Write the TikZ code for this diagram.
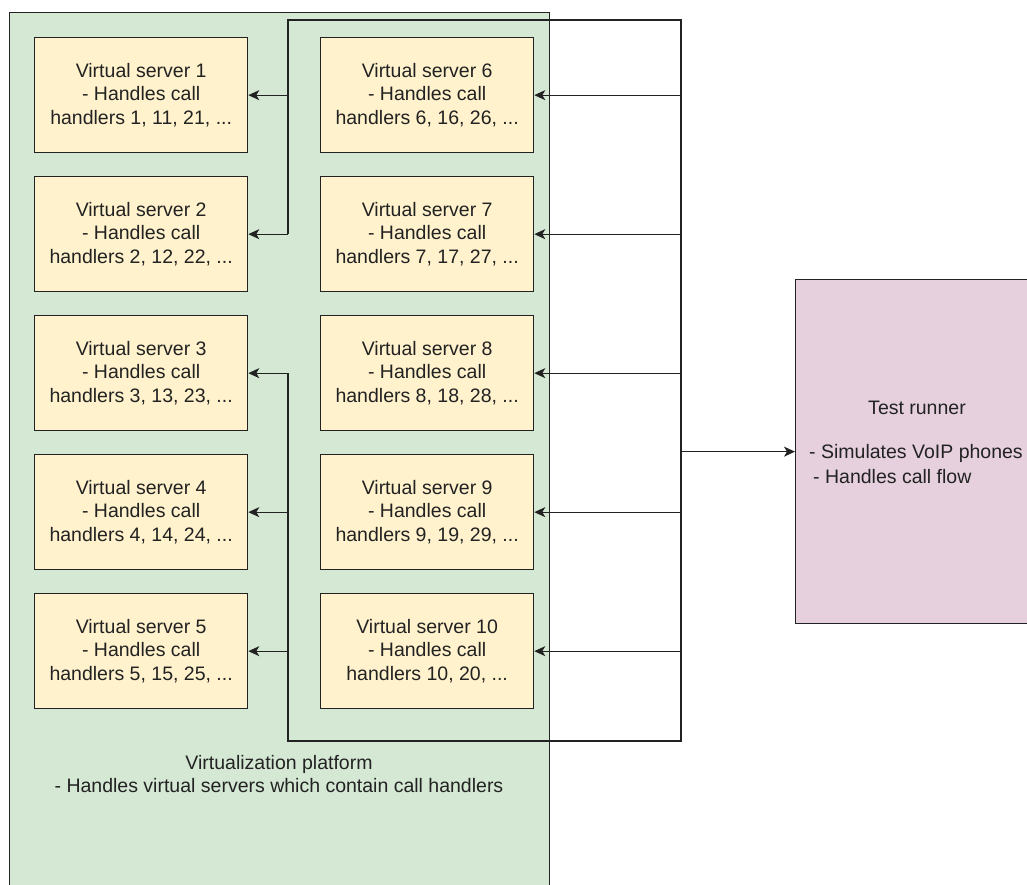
\documentclass[tikz,border=0pt]{standalone}
\usepackage{fontspec}
\setmainfont{Liberation Sans}
\usetikzlibrary{arrows.meta}
\definecolor{platfill}{HTML}{D5E8D4}
\definecolor{srvfill}{HTML}{FFF2CC}
\definecolor{trfill}{HTML}{E6D0DE}
\definecolor{ink}{HTML}{222222}
\begin{document}
\begin{tikzpicture}[x=1pt,y=-1pt,
  every node/.style={text=ink},
  txt/.style={font=\fontsize{19.5}{23.5}\selectfont, align=center, inner sep=0pt},
  srv/.style={draw=ink, line width=1.3pt, fill=srvfill, anchor=north west, minimum width=213pt, minimum height=115pt, txt},
  wire/.style={draw=ink, line width=1.3pt},
  arr/.style={wire, -{Stealth[length=11pt,width=10pt,inset=3pt]}}]
\useasboundingbox (0,0) rectangle (1027,884);
\clip (0,0) rectangle (1027,884);
% platform
\node[draw=ink, line width=1.3pt, fill=platfill, anchor=north west, minimum width=540pt, minimum height=900pt, inner sep=0pt] (plat) at (9,12) {};
\node[txt] (platlbl) at (279,774) {Virtualization platform\\- Handles virtual servers which contain call handlers};
% servers
\node[srv] (s1) at (34,37)  {Virtual server 1\\- Handles call\\handlers 1, 11, 21, ...};
\node[srv] (s2) at (34,176) {Virtual server 2\\- Handles call\\handlers 2, 12, 22, ...};
\node[srv] (s3) at (34,315) {Virtual server 3\\- Handles call\\handlers 3, 13, 23, ...};
\node[srv] (s4) at (34,454) {Virtual server 4\\- Handles call\\handlers 4, 14, 24, ...};
\node[srv] (s5) at (34,593) {Virtual server 5\\- Handles call\\handlers 5, 15, 25, ...};
\node[srv] (s6) at (320,37)  {Virtual server 6\\- Handles call\\handlers 6, 16, 26, ...};
\node[srv] (s7) at (320,176) {Virtual server 7\\- Handles call\\handlers 7, 17, 27, ...};
\node[srv] (s8) at (320,315) {Virtual server 8\\- Handles call\\handlers 8, 18, 28, ...};
\node[srv] (s9) at (320,454) {Virtual server 9\\- Handles call\\handlers 9, 19, 29, ...};
\node[srv] (s10) at (320,593) {Virtual server 10\\- Handles call\\handlers 10, 20, ...};
% test runner
\node[draw=ink, line width=1.3pt, fill=trfill, anchor=north west, minimum width=246pt, minimum height=344pt, inner sep=0pt] (tr) at (795,279) {};
\node[txt] (trtitle) at (917,408) {Test runner};
\node[txt, anchor=west] (trl1) at (809,453) {- Simulates VoIP phones};
\node[txt, anchor=west] (trl2) at (813,477) {- Handles call flow};
% bus corners
\coordinate (ctl) at (288,20);
\coordinate (ctr) at (681,20);
\coordinate (cbr) at (681,741);
\coordinate (cbl) at (288,741);
\draw[wire] (ctl |- s2.east) -- (ctl) -- (ctr) -- (cbr) -- (cbl) -- (ctl |- s3.east);
% left arrows
\foreach \s in {s1,s2,s3,s4,s5} \draw[arr] (ctl |- \s.east) -- (\s.east);
% right arrows
\foreach \s in {s6,s7,s8,s9,s10} \draw[arr] (ctr |- \s.east) -- (\s.east);
\draw[arr] (ctr |- tr.west) -- (tr.west);
\end{tikzpicture}
\end{document}
